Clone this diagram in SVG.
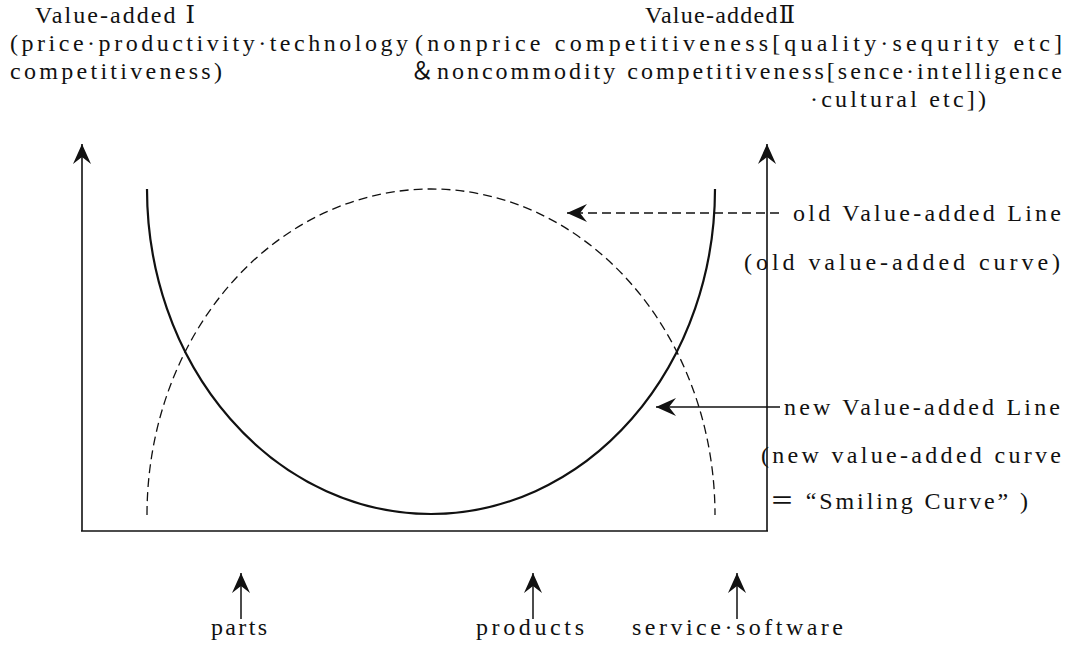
<svg xmlns="http://www.w3.org/2000/svg" width="1069" height="657" viewBox="0 0 1069 657">
  <style>
    text { font-family: "Liberation Serif", "DejaVu Serif", "Noto Sans CJK JP", serif; font-size: 24px; fill: #111; }
    .ax { stroke: #111; stroke-width: 1.6; fill: none; }
    .solid { stroke: #111; stroke-width: 2.2; fill: none; }
    .dash { stroke: #111; stroke-width: 1.3; fill: none; stroke-dasharray: 9 5; }
    .arr { stroke: #111; stroke-width: 1.5; fill: none; }
  </style>
  <defs>
    <marker id="barb" markerUnits="userSpaceOnUse" viewBox="-21 -10 22 20" refX="0" refY="0" markerWidth="22" markerHeight="20" orient="auto">
      <path d="M0,0 L-20,-9 L-13,0 L-20,9 Z" fill="#111"/>
    </marker>
  </defs>
  <rect width="1069" height="657" fill="#fff"/>

  <g id="axes">
    <line class="ax" x1="82" y1="531" x2="82" y2="144" marker-end="url(#barb)"/>
    <line class="ax" x1="767" y1="531" x2="767" y2="144" marker-end="url(#barb)"/>
    <line class="ax" x1="81" y1="531" x2="768" y2="531"/>
  </g>

  <g id="old-curve">
    <path class="dash" d="M147,515 A284,326 0 0 1 715,515"/>
  </g>
  <g id="new-curve">
    <path class="solid" d="M147,189 A284,325 0 0 0 715,189"/>
  </g>

  <g id="connectors">
    <line class="dash" x1="779" y1="213" x2="567" y2="213" marker-end="url(#barb)"/>
    <line class="arr" x1="780" y1="407" x2="656" y2="407" marker-end="url(#barb)"/>
    <line class="arr" x1="241" y1="619" x2="241" y2="573" marker-end="url(#barb)"/>
    <line class="arr" x1="533" y1="619" x2="533" y2="573" marker-end="url(#barb)"/>
    <line class="arr" x1="737" y1="619" x2="737" y2="573" marker-end="url(#barb)"/>
  </g>

  <g id="label-value1">
    <text x="35" y="23" textLength="160" lengthAdjust="spacing">Value-added Ⅰ</text>
    <text x="10" y="51" textLength="398" lengthAdjust="spacing">(price·productivity·technology</text>
    <text x="10" y="79" textLength="212" lengthAdjust="spacing">competitiveness)</text>
  </g>
  <g id="label-value2">
    <text x="645" y="23" textLength="150" lengthAdjust="spacing">Value-addedⅡ</text>
    <text x="415" y="51" textLength="647" lengthAdjust="spacing">(nonprice competitiveness[quality·sequrity etc]</text>
    <text x="410" y="79" textLength="652" lengthAdjust="spacing">＆noncommodity competitiveness[sence·intelligence</text>
    <text x="810" y="107" textLength="176" lengthAdjust="spacing">·cultural etc])</text>
  </g>
  <g id="label-old">
    <text x="793" y="221" textLength="268" lengthAdjust="spacing">old Value-added Line</text>
    <text x="744" y="270" textLength="316" lengthAdjust="spacing">(old value-added curve)</text>
  </g>
  <g id="label-new">
    <text x="784" y="415" textLength="276" lengthAdjust="spacing">new Value-added Line</text>
    <text x="761" y="463" textLength="300" lengthAdjust="spacing">(new value-added curve</text>
    <text x="770" y="509" textLength="258" lengthAdjust="spacing">＝ “Smiling Curve” )</text>
  </g>
  <g id="label-parts"><text x="211" y="635" textLength="56" lengthAdjust="spacing">parts</text></g>
  <g id="label-products"><text x="476" y="635" textLength="108" lengthAdjust="spacing">products</text></g>
  <g id="label-service"><text x="632" y="635" textLength="211" lengthAdjust="spacing">service·software</text></g>
</svg>
